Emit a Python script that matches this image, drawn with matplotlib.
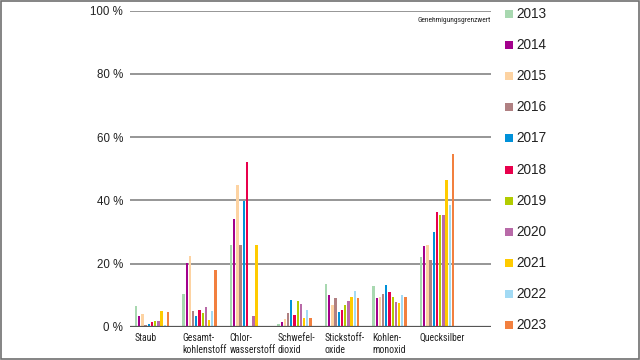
import numpy as np
import matplotlib
matplotlib.use('Agg')
import matplotlib.pyplot as plt
from matplotlib.patches import Rectangle
import matplotlib.transforms as mtransforms

plt.rcParams['font.family'] = ['Liberation Sans', 'DejaVu Sans']

categories = ['Staub', 'Gesamt-\nkohlenstoff', 'Chlor-\nwasserstoff', 'Schwefel-\ndioxid',
              'Stickstoff-\noxide', 'Kohlen-\nmonoxid', 'Quecksilber']
years = ['2013', '2014', '2015', '2016', '2017', '2018', '2019', '2020', '2021', '2022', '2023']
colors = ['#a8d8b0', '#a3008c', '#fdd3a2', '#b08082', '#0091d9', '#e8004c',
          '#b2cc00', '#b86aa8', '#ffcb00', '#a2daf4', '#f2803f']

# Prozent des Genehmigungsgrenzwerts, je Jahr ueber die Kategorien
v2013 = [6.5, 10.5, 26.0, 0.7, 13.4, 12.8, 22.0]
v2014 = [3.3, 20.2, 34.2, 1.5, 10.0, 9.2, 25.5]
v2015 = [4.0, 22.3, 44.9, 2.3, 6.9, 9.5, 25.7]
v2016 = [0.6, 4.9, 26.0, 4.2, 9.0, 10.5, 21.0]
v2017 = [0.8, 3.5, 39.8, 8.4, 4.5, 13.1, 30.0]
v2018 = [1.4, 5.2, 52.2, 3.6, 5.2, 11.1, 36.2]
v2019 = [1.8, 4.4, np.nan, 8.0, 6.8, 9.3, 35.3]
v2020 = [1.8, 6.2, 3.3, 7.2, 8.0, 7.8, 35.5]
v2021 = [4.9, 2.2, 26.0, 2.9, 9.3, 7.6, 46.4]
v2022 = [0.5, 5.0, np.nan, 5.2, 11.2, 10.0, 38.4]
v2023 = [4.6, 17.8, np.nan, 2.9, 9.1, 9.3, 54.5]
series = [v2013, v2014, v2015, v2016, v2017, v2018, v2019, v2020, v2021, v2022, v2023]

fig = plt.figure(figsize=(6.4, 3.6), dpi=100)
W, H = 640, 360
left_px, right_px, top_px, bot_px = 130, 491, 10.7, 326.7
ax = fig.add_axes([left_px / W, 1 - bot_px / H, (right_px - left_px) / W, (bot_px - top_px) / H])

slot = 3.2 / 47.5
bw = 2.3 / 47.5
x = np.arange(len(categories))
for k, (vals, c) in enumerate(zip(series, colors)):
    ax.bar(x + k * slot, vals, width=bw, color=c, zorder=3, linewidth=0)

ax.set_xlim(-6 / 47.5, (right_px - 136) / 47.5)
ax.set_ylim(0, 100)

for yv in [20, 40, 60, 80, 100]:
    ax.axhline(yv, color='#8e8e8e', lw=1.3, zorder=1)
ax.axhline(0, color='#555555', lw=1.6, zorder=4)

ax.set_yticks([0, 20, 40, 60, 80, 100])
ax.set_yticklabels(['0 %', '20 %', '40 %', '60 %', '80 %', '100 %'], fontsize=8.3, color='#222222')
ax.tick_params(axis='y', length=0, pad=5)
ax.set_xticks([])
for s in ax.spines.values():
    s.set_visible(False)

narrow = ['Roboto Condensed', 'Liberation Sans Narrow', 'Roboto']
for i, lab in enumerate(categories):
    ax.text(i - 0.03, -2.0, lab, ha='left', va='top', fontsize=7.0, color='#222222',
            linespacing=1.2, family=narrow)

trans = mtransforms.blended_transform_factory(ax.transAxes, ax.transData)
ax.text(1.0, 98.0, 'Genehmigungsgrenzwert', transform=trans,
        ha='right', va='top', fontsize=5.4, color='#222222', family=narrow)

# Legende rechts
for k, (yr, c) in enumerate(zip(years, colors)):
    yc = 14 + k * 31.1
    fig.add_artist(Rectangle((505 / W, 1 - (yc + 4) / H), 8 / W, 8 / H,
                             transform=fig.transFigure, color=c, lw=0))
    fig.text(516 / W, 1 - yc / H, yr, ha='left', va='center', fontsize=9.8, color='#222222')

fig.add_artist(Rectangle((0.0008, 0.0014), 0.998, 0.997, transform=fig.transFigure,
                         fill=False, edgecolor='#707070', lw=1.2))

fig.savefig('out.png', dpi=100)
